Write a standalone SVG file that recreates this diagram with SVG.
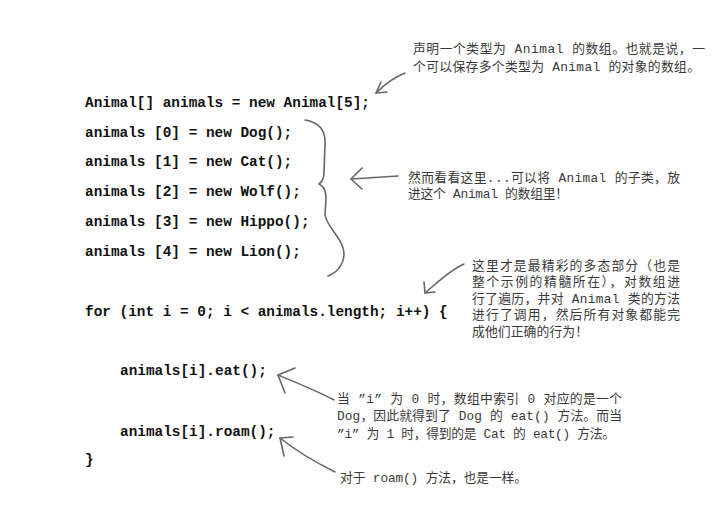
<svg xmlns="http://www.w3.org/2000/svg" width="720" height="505" viewBox="0 0 720 505">
<defs>
<style>
.code{font-family:"Liberation Mono","Courier New",monospace;font-weight:bold;font-size:14.4px;fill:#111}
.note{font-family:"Liberation Mono","Noto Sans CJK SC",monospace;font-size:12.8px;fill:#3a3a3a}
.ln{fill:none;stroke:#666;stroke-width:1.6;stroke-linecap:round;stroke-linejoin:round}
</style>
</defs>
<rect width="720" height="505" fill="#fff"/>
<g id="code">
<text class="code" x="85" y="106.5">Animal[] animals = new Animal[5];</text>
<text class="code" x="85" y="136.5">animals [0] = new Dog();</text>
<text class="code" x="85" y="166">animals [1] = new Cat();</text>
<text class="code" x="85" y="195.5">animals [2] = new Wolf();</text>
<text class="code" x="85" y="225.5">animals [3] = new Hippo();</text>
<text class="code" x="85" y="255.5">animals [4] = new Lion();</text>
<text class="code" x="85" y="316">for (int i = 0; i &lt; animals.length; i++) {</text>
<text class="code" x="120" y="375">animals[i].eat();</text>
<text class="code" x="120" y="436">animals[i].roam();</text>
<text class="code" x="85" y="464">}</text>
</g>
<g id="note1">
<text class="note" x="413" y="52.5" textLength="292" lengthAdjust="spacing">声明一个类型为 Animal 的数组。也就是说，一</text>
<text class="note" x="413" y="70.5" textLength="287" lengthAdjust="spacing">个可以保存多个类型为 Animal 的对象的数组。</text>
</g>
<g id="note2">
<text class="note" x="408" y="181.5" textLength="272" lengthAdjust="spacing">然而看看这里...可以将 Animal 的子类，放</text>
<text class="note" x="408" y="197.5" textLength="160" lengthAdjust="spacing">进这个 Animal 的数组里！</text>
</g>
<g id="note3">
<text class="note" x="472" y="269.5" textLength="208" lengthAdjust="spacing">这里才是最精彩的多态部分（也是</text>
<text class="note" x="472" y="286" textLength="208" lengthAdjust="spacing">整个示例的精髓所在），对数组进</text>
<text class="note" x="472" y="302.5" textLength="208" lengthAdjust="spacing">行了遍历，并对 Animal 类的方法</text>
<text class="note" x="472" y="319" textLength="208" lengthAdjust="spacing">进行了调用，然后所有对象都能完</text>
<text class="note" x="472" y="335.5" textLength="116" lengthAdjust="spacing">成他们正确的行为！</text>
</g>
<g id="note4">
<text class="note" x="337" y="402.5" textLength="285" lengthAdjust="spacing">当 ”i” 为 0 时，数组中索引 0 对应的是一个</text>
<text class="note" x="337" y="420" textLength="285" lengthAdjust="spacing">Dog，因此就得到了 Dog 的 eat() 方法。而当</text>
<text class="note" x="337" y="437.5" textLength="278" lengthAdjust="spacing">”i” 为 1 时，得到的是 Cat 的 eat() 方法。</text>
</g>
<g id="note5">
<text class="note" x="340" y="481.5" textLength="187" lengthAdjust="spacing">对于 roam() 方法，也是一样。</text>
</g>
<g id="connectors">
<path class="ln" d="M405,73 C395,77 385,84 376,93"/>
<path class="ln" d="M381,82 L376,93 L387,92"/>
<path class="ln" d="M305,120 C318,122 326,130 325,145 L324,172 C324,179 322,182 319,184 C323,186 326,190 326,198 L325,215 C327,228 345,240 344,255 C343,265 338,272 328,276"/>
<path class="ln" d="M398,176 C380,177 365,178 351,179"/>
<path class="ln" d="M362,168 L351,179 L362,189"/>
<path class="ln" d="M464,264 C450,270 438,282 425,293"/>
<path class="ln" d="M424,282 L425,293 L435,292"/>
<path class="ln" d="M334,400 C315,390 295,382 278,375"/>
<path class="ln" d="M295,368 L278,375 L285,393"/>
<path class="ln" d="M335,472 C315,462 295,450 280,438"/>
<path class="ln" d="M293,437 L280,438 L284,456"/>
</g>
</svg>
